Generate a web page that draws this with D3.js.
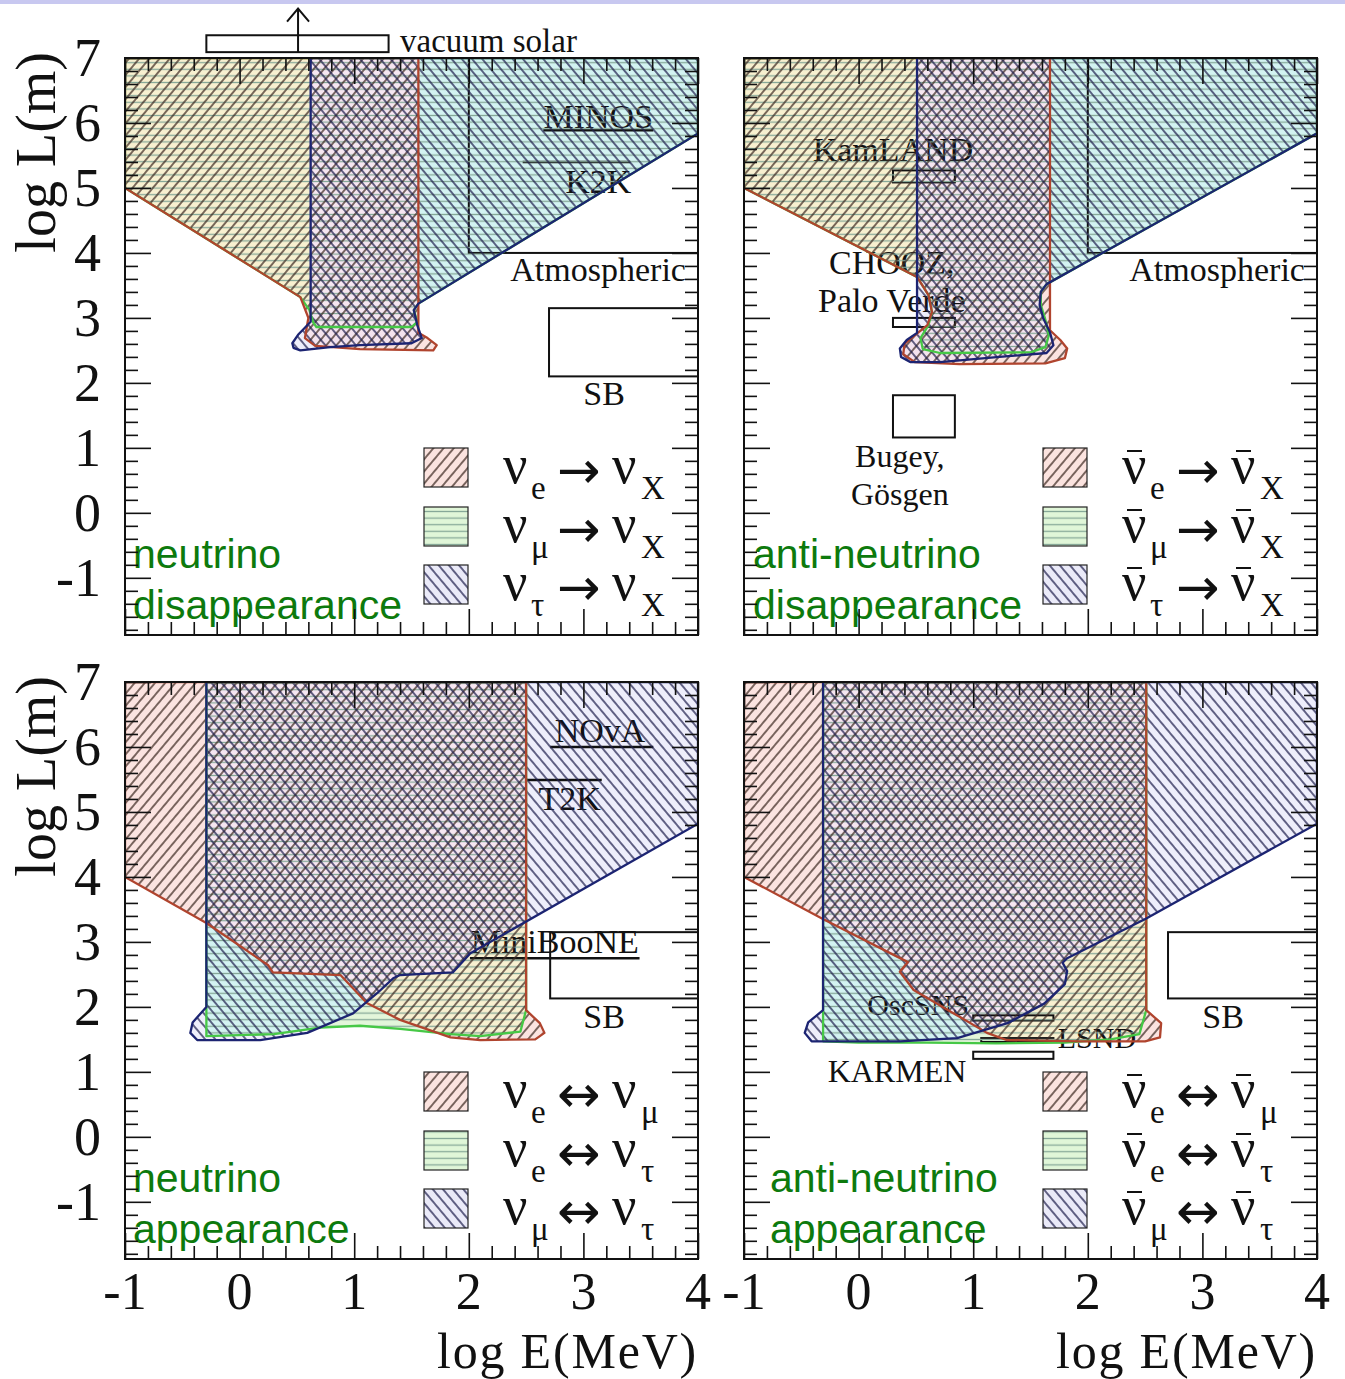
<!DOCTYPE html>
<html>
<head>
<meta charset="utf-8">
<title>Oscillation baselines</title>
<script src="https://cdn.jsdelivr.net/npm/d3@7/dist/d3.min.js"></script>
<style>
  html,body{margin:0;padding:0;background:#fff;}
  svg{display:block;}
</style>
</head>
<body>
<svg id="chart" width="1345" height="1379"></svg>
<script>
// ---------- axes ----------
const xDomain = [-1, 4];
const yDomain = [-1.88, 7];
const xTickValues = [-1, 0, 1, 2, 3, 4];
const xTickLabels = ["-1", "0", "1", "2", "3", "4"];
const yTickValues = [-1, 0, 1, 2, 3, 4, 5, 6, 7];
const yTickLabels = ["-1", "0", "1", "2", "3", "4", "5", "6", "7"];
const xTitle = "log E(MeV)";
const yTitle = "log L(m)";

// ---------- sensitive regions, vertices as [log E, log L] ----------
// neutrino disappearance
const nuDisE   = [[-1,7],[1.56,7],[1.56,2.77],[1.64,2.69],[1.72,2.58],[1.69,2.50],[1.05,2.52],[0.66,2.57],[0.57,2.69],[0.60,3.00],[0.53,3.32],[-1,5.0]];
const nuDisMu  = [[-1,7],[4,7],[4,5.84],[1.56,3.22],[1.52,3.12],[1.55,2.94],[1.50,2.86],[1.05,2.86],[0.67,2.86],[0.64,2.94],[0.61,3.12],[0.53,3.32],[-1,5.0]];
const nuDisTau = [[0.62,7],[4,7],[4,5.84],[1.56,3.22],[1.52,3.12],[1.55,2.89],[1.59,2.69],[1.50,2.61],[1.05,2.58],[0.79,2.55],[0.53,2.50],[0.47,2.54],[0.46,2.61],[0.51,2.74],[0.62,2.94]];
// anti-neutrino disappearance
const antiDisE   = [[-1,7],[1.67,7],[1.67,2.81],[1.76,2.66],[1.82,2.53],[1.80,2.38],[1.63,2.30],[0.88,2.29],[0.49,2.32],[0.39,2.44],[0.40,2.60],[0.49,2.73],[0.60,2.89],[0.64,3.09],[0.61,3.35],[0.51,3.63],[-1,5.0]];
const antiDisMu  = [[-1,7],[4,7],[4,5.84],[1.64,3.52],[1.59,3.40],[1.59,3.20],[1.63,2.97],[1.66,2.73],[1.63,2.55],[1.50,2.47],[0.71,2.46],[0.56,2.52],[0.54,2.69],[0.61,2.89],[0.64,3.09],[0.61,3.35],[0.51,3.63],[-1,5.0]];
const antiDisTau = [[0.51,7],[4,7],[4,5.84],[1.64,3.52],[1.59,3.40],[1.58,3.20],[1.61,3.00],[1.67,2.78],[1.70,2.58],[1.64,2.46],[1.23,2.40],[0.71,2.32],[0.45,2.32],[0.37,2.40],[0.36,2.53],[0.42,2.66],[0.51,2.77]];
// neutrino appearance
const nuAppEMu   = [[-1,7],[2.5,7],[2.5,1.95],[2.62,1.75],[2.66,1.60],[2.58,1.50],[2.10,1.49],[1.84,1.53],[1.40,1.80],[1.11,2.06],[0.88,2.49],[0.29,2.53],[0.25,2.64],[-0.29,3.29],[-1,4.0]];
const nuAppETau  = [[-0.29,7],[2.5,7],[2.5,1.95],[2.45,1.62],[2.10,1.55],[1.84,1.58],[1.40,1.66],[1.05,1.71],[0.70,1.68],[0.30,1.58],[-0.29,1.55]];
const nuAppMuTau = [[-0.29,7],[4,7],[4,4.82],[2.01,2.82],[1.86,2.53],[1.40,2.49],[1.34,2.44],[1.20,2.21],[0.99,1.90],[0.59,1.60],[0.18,1.49],[-0.37,1.49],[-0.43,1.60],[-0.41,1.76],[-0.29,2.0]];
// anti-neutrino appearance
const antiAppEMu   = [[-1,7],[2.51,7],[2.51,1.95],[2.64,1.75],[2.63,1.53],[2.50,1.47],[1.93,1.47],[1.29,1.49],[1.12,1.60],[0.83,1.90],[0.48,2.26],[0.36,2.54],[0.43,2.69],[0.34,2.77],[-0.32,3.36],[-1,4.0]];
const antiAppETau  = [[-0.31,7],[2.51,7],[2.51,1.95],[2.45,1.58],[2.2,1.50],[1.8,1.45],[1.2,1.44],[0.6,1.45],[0.0,1.45],[-0.31,1.47]];
const antiAppMuTau = [[-0.31,7],[4,7],[4,4.82],[2.51,3.36],[1.82,2.75],[1.78,2.68],[1.82,2.55],[1.80,2.35],[1.62,2.05],[1.30,1.75],[0.86,1.52],[0.36,1.47],[-0.41,1.47],[-0.47,1.60],[-0.44,1.76],[-0.31,1.95]];

// ---------- experiments: boxes [E0,E1,L0,L1], lines [E0,E1,L], labels [text,E,L,anchor,size] ----------
const disNuBoxes   = [[2,4,4.0,7.0],[2.70,4,2.10,3.15]];
const disNuLines   = [[2.65,3.61,5.89],[2.47,3.41,5.40]];
const disNuLabels  = [["MINOS",3.13,5.93,"middle",34],["K2K",3.13,4.93,"middle",34],["Atmospheric",3.895,3.565,"end",34],["SB",3.18,1.655,"middle",34]];
const solarBox     = [-0.29,1.30,7.09,7.35];
const solarArrow   = [0.51,7.09,7.76];
const solarLabel   = ["vacuum solar",1.40,7.10,"start",33];

const disAntiBoxes  = [[2,4,4.0,7.0],[0.30,0.84,5.085,5.27],[0.30,0.84,2.86,3.0],[0.30,0.84,1.16,1.81]];
const disAntiLines  = [];
const disAntiLabels = [["KamLAND",0.30,5.42,"middle",34],["CHOOZ,",0.29,3.67,"middle",34],["Palo Verde",0.29,3.09,"middle",34],["Bugey,",0.36,0.70,"middle",32],["Gösgen",0.36,0.115,"middle",32],["Atmospheric",3.895,3.565,"end",34]];

const appNuBoxes  = [[2.71,4,2.13,3.15]];
const appNuLines  = [[2.71,3.61,6.0],[2.49,3.16,5.49],[2.01,3.49,2.75]];
const appNuLabels = [["NOvA",3.145,6.07,"middle",34],["T2K",2.88,5.03,"middle",34],["MiniBooNE",2.75,2.83,"middle",34],["SB",3.18,1.68,"middle",34]];

const appAntiBoxes  = [[2.70,4,2.13,3.15],[1.0,1.70,1.79,1.87],[1.07,1.70,1.46,1.52],[1.0,1.70,1.20,1.31]];
const appAntiLines  = [];
const appAntiLabels = [["OscSNS",0.52,1.87,"middle",30],["LSND",2.08,1.365,"middle",30],["KARMEN",0.335,0.85,"middle",32],["SB",3.18,1.68,"middle",34]];

// ---------- legends ----------
const disLegend = [["e","X"],["μ","X"],["τ","X"]];
const appLegend = [["e","μ"],["e","τ"],["μ","τ"]];
const panelTitles = [["neutrino","disappearance"],["anti-neutrino","disappearance"],["neutrino","appearance"],["anti-neutrino","appearance"]];

// ---------- layout ----------
const PW = 573, PH = 577;
const panels = [
  {x0:125, y0:58,  regions:[nuDisE, nuDisMu, nuDisTau],         legend:disLegend, arrow:"→", anti:false, title:panelTitles[0], tdx:8,  boxes:disNuBoxes,   lines:disNuLines,   labels:disNuLabels,   left:true,  bottom:false},
  {x0:744, y0:58,  regions:[antiDisE, antiDisMu, antiDisTau],   legend:disLegend, arrow:"→", anti:true,  title:panelTitles[1], tdx:9,  boxes:disAntiBoxes, lines:disAntiLines, labels:disAntiLabels, left:false, bottom:false},
  {x0:125, y0:682, regions:[nuAppEMu, nuAppETau, nuAppMuTau],   legend:appLegend, arrow:"↔", anti:false, title:panelTitles[2], tdx:8,  boxes:appNuBoxes,   lines:appNuLines,   labels:appNuLabels,   left:true,  bottom:true},
  {x0:744, y0:682, regions:[antiAppEMu, antiAppETau, antiAppMuTau], legend:appLegend, arrow:"↔", anti:true, title:panelTitles[3], tdx:26, boxes:appAntiBoxes, lines:appAntiLines, labels:appAntiLabels, left:false, bottom:true}
];

const SERIF = "'Liberation Serif','Times New Roman',Times,serif";
const SANS  = "'Liberation Sans',Arial,Helvetica,sans-serif";

// region styles: 0 = first flavour (red, "/"), 1 = second (green, horizontal), 2 = third (blue, "\")
const styles = [
  {pat:"hFwd",  stroke:"#b0442e", sw:2.3, legendFill:"#fbe3df"},
  {pat:"hHor",  stroke:"#46c846", sw:2.3, legendFill:"#e0f6d8"},
  {pat:"hBack", stroke:"#1c2472", sw:2.3, legendFill:"#eaeaf8"}
];
// background tints of single regions and their overlaps
const tint = {r:"#fbe3e0", g:"#e3f6da", b:"#eeeefb", rg:"#f8f0d0", gb:"#d3f3f2", rb:"#f4e3ee", rgb:"#f6e6f1"};

const svg = d3.select("#chart");
const defs = svg.append("defs");

function hatch(id, angle, color, sw, s) {
  defs.append("pattern").attr("id", id).attr("patternUnits", "userSpaceOnUse")
    .attr("width", s).attr("height", s).attr("patternTransform", `rotate(${angle})`)
    .append("line").attr("x1", s/2).attr("x2", s/2).attr("y1", -1).attr("y2", s+1)
    .attr("stroke", color).attr("stroke-width", sw);
}
hatch("hFwd", 40, "#3e2a22", 1.35, 7.8);
hatch("hBack", -40, "#20204e", 1.35, 7.8);
defs.append("pattern").attr("id", "hHor").attr("patternUnits", "userSpaceOnUse")
  .attr("width", 10).attr("height", 6.6)
  .append("line").attr("x1", -1).attr("x2", 11).attr("y1", 3.3).attr("y2", 3.3)
  .attr("stroke", "#86a898").attr("stroke-width", 1.3);

// slide strip at the top
svg.append("rect").attr("x", 0).attr("y", 0).attr("width", 1345).attr("height", 4).attr("fill", "#c8c8f0");

const xMinor = d3.range(-5, 21).map(i => i/5).filter(v => Math.abs(v - Math.round(v)) > 1e-6);
const yMinor = d3.range(-9, 36).map(i => i/5).filter(v => Math.abs(v - Math.round(v)) > 1e-6);

panels.forEach((p, pi) => {
  const x = d3.scaleLinear().domain(xDomain).range([p.x0, p.x0 + PW]);
  const y = d3.scaleLinear().domain(yDomain).range([p.y0 + PH, p.y0]);
  const g = svg.append("g");
  const line = d3.line().x(d => x(d[0])).y(d => y(d[1])).curve(d3.curveLinearClosed);
  const [R, G, B] = p.regions.map(r => line(r));

  // clip paths for the panel and each region
  const cid = k => `c${pi}_${k}`;
  defs.append("clipPath").attr("id", cid("f")).append("rect").attr("x", p.x0).attr("y", p.y0).attr("width", PW).attr("height", PH);
  defs.append("clipPath").attr("id", cid("r")).append("path").attr("d", R);
  defs.append("clipPath").attr("id", cid("g")).append("path").attr("d", G);
  defs.append("clipPath").attr("id", cid("b")).append("path").attr("d", B);

  // tints: single regions, then overlaps
  const body = g.append("g").attr("clip-path", `url(#${cid("f")})`);
  body.append("path").attr("d", G).attr("fill", tint.g);
  body.append("path").attr("d", R).attr("fill", tint.r);
  body.append("path").attr("d", B).attr("fill", tint.b);
  body.append("path").attr("d", R).attr("fill", tint.rb).attr("clip-path", `url(#${cid("b")})`);
  body.append("path").attr("d", R).attr("fill", tint.rg).attr("clip-path", `url(#${cid("g")})`);
  body.append("path").attr("d", B).attr("fill", tint.gb).attr("clip-path", `url(#${cid("g")})`);
  body.append("g").attr("clip-path", `url(#${cid("g")})`)
    .append("path").attr("d", R).attr("fill", tint.rgb).attr("clip-path", `url(#${cid("b")})`);

  // experiment boxes, lines and names (under the hatching)
  const exp = g.append("g");
  p.boxes.forEach(b => {
    exp.append("rect").attr("x", x(b[0])).attr("y", y(b[3])).attr("width", x(b[1]) - x(b[0])).attr("height", y(b[2]) - y(b[3]))
      .attr("fill", "none").attr("stroke", "#111").attr("stroke-width", 2);
  });
  p.lines.forEach(l => {
    exp.append("line").attr("x1", x(l[0])).attr("x2", x(l[1])).attr("y1", y(l[2])).attr("y2", y(l[2]))
      .attr("stroke", "#111").attr("stroke-width", 2.5);
  });
  p.labels.forEach(t => {
    exp.append("text").attr("x", x(t[1])).attr("y", y(t[2])).attr("text-anchor", t[3])
      .attr("font-family", SERIF).attr("font-size", t[4]).attr("fill", "#111").text(t[0]);
  });

  // hatching and outlines
  const hat = g.append("g").attr("clip-path", `url(#${cid("f")})`);
  [G, R, B].forEach((d, j) => {
    const k = [1, 0, 2][j];
    hat.append("path").attr("d", d).attr("fill", `url(#${styles[k].pat})`);
  });
  [G, R, B].forEach((d, j) => {
    const k = [1, 0, 2][j];
    hat.append("path").attr("d", d).attr("fill", "none")
      .attr("stroke", styles[k].stroke).attr("stroke-width", styles[k].sw).attr("stroke-linejoin", "round");
  });

  // vacuum solar marker above the first frame
  if (pi === 0) {
    g.append("rect").attr("x", x(solarBox[0])).attr("y", y(solarBox[3])).attr("width", x(solarBox[1]) - x(solarBox[0]))
      .attr("height", y(solarBox[2]) - y(solarBox[3])).attr("fill", "none").attr("stroke", "#111").attr("stroke-width", 2);
    const ax = x(solarArrow[0]), ay0 = y(solarArrow[1]), ay1 = y(solarArrow[2]);
    g.append("line").attr("x1", ax).attr("x2", ax).attr("y1", ay0).attr("y2", ay1).attr("stroke", "#111").attr("stroke-width", 2);
    g.append("path").attr("d", `M${ax-11},${ay1+13}L${ax},${ay1}L${ax+11},${ay1+13}`).attr("fill", "none").attr("stroke", "#111").attr("stroke-width", 2);
    g.append("text").attr("x", x(solarLabel[1])).attr("y", y(solarLabel[2])).attr("text-anchor", solarLabel[3])
      .attr("font-family", SERIF).attr("font-size", solarLabel[4]).attr("fill", "#111").text(solarLabel[0]);
  }

  // legend
  const lg = g.append("g");
  const rowTops = [390, 449, 507];
  p.legend.forEach((r, k) => {
    const bx = p.x0 + 299, by = p.y0 + rowTops[k];
    lg.append("rect").attr("x", bx).attr("y", by).attr("width", 44).attr("height", 39).attr("fill", styles[k].legendFill);
    lg.append("rect").attr("x", bx).attr("y", by).attr("width", 44).attr("height", 39)
      .attr("fill", `url(#${styles[k].pat})`).attr("stroke", "#222").attr("stroke-width", 1.2);
    const base = by + 35;
    const t = lg.append("text").attr("font-family", SERIF).attr("fill", "#111");
    t.append("tspan").attr("x", p.x0 + 378).attr("y", base).attr("font-size", 54).text("ν");
    t.append("tspan").attr("x", p.x0 + 406).attr("y", base + 16).attr("font-size", 33).text(r[0]);
    t.append("tspan").attr("x", p.x0 + 487).attr("y", base).attr("font-size", 54).text("ν");
    t.append("tspan").attr("x", p.x0 + 516).attr("y", base + 16).attr("font-size", 33).text(r[1]);
    lg.append("text").attr("x", p.x0 + 432).attr("y", base + 5).attr("font-family", "'DejaVu Sans',sans-serif")
      .attr("font-size", 52).attr("fill", "#111").text(p.arrow);
    if (p.anti) {
      [p.x0 + 383, p.x0 + 492].forEach(bx0 => {
        lg.append("line").attr("x1", bx0).attr("x2", bx0 + 15).attr("y1", base - 32).attr("y2", base - 32)
          .attr("stroke", "#111").attr("stroke-width", 2);
      });
    }
  });

  // panel name
  const tt = g.append("text").attr("font-family", SANS).attr("font-size", 41).attr("fill", "#0d7a0d");
  tt.append("tspan").attr("x", p.x0 + p.tdx).attr("y", p.y0 + 510).text(p.title[0]);
  tt.append("tspan").attr("x", p.x0 + p.tdx).attr("y", p.y0 + 561).text(p.title[1]);

  // frame ticks on all four sides, pointing inward
  const ax = g.append("g").attr("color", "#111");
  const tick = (gen, tr, vals, len) => {
    const a = ax.append("g").attr("transform", tr).call(gen.tickValues(vals).tickSize(-len).tickFormat(""));
    a.select(".domain").remove();
    a.selectAll("line").attr("stroke-width", 1.6);
  };
  tick(d3.axisBottom(x), `translate(0,${p.y0 + PH})`, xTickValues, 26);
  tick(d3.axisBottom(x), `translate(0,${p.y0 + PH})`, xMinor, 13);
  tick(d3.axisTop(x), `translate(0,${p.y0})`, xTickValues, 26);
  tick(d3.axisTop(x), `translate(0,${p.y0})`, xMinor, 13);
  tick(d3.axisLeft(y), `translate(${p.x0},0)`, yTickValues, 26);
  tick(d3.axisLeft(y), `translate(${p.x0},0)`, yMinor, 13);
  tick(d3.axisRight(y), `translate(${p.x0 + PW},0)`, yTickValues, 26);
  tick(d3.axisRight(y), `translate(${p.x0 + PW},0)`, yMinor, 13);

  g.append("rect").attr("x", p.x0).attr("y", p.y0).attr("width", PW).attr("height", PH)
    .attr("fill", "none").attr("stroke", "#111").attr("stroke-width", 2);

  // tick labels and titles
  if (p.left) {
    yTickValues.forEach((v, i) => {
      g.append("text").attr("x", p.x0 - 24).attr("y", y(v)).attr("dy", "0.34em").attr("text-anchor", "end")
        .attr("font-family", SERIF).attr("font-size", 54).attr("fill", "#111").text(yTickLabels[i]);
    });
    g.append("text").attr("transform", `translate(55,${p.y0 - 6}) rotate(-90)`).attr("text-anchor", "end")
      .attr("font-family", SERIF).attr("font-size", 56).attr("fill", "#111").text(yTitle);
  }
  if (p.bottom) {
    xTickValues.forEach((v, i) => {
      g.append("text").attr("x", x(v)).attr("y", 1309).attr("text-anchor", "middle")
        .attr("font-family", SERIF).attr("font-size", 52).attr("fill", "#111").text(xTickLabels[i]);
    });
    g.append("text").attr("x", p.x0 + PW).attr("y", 1368).attr("text-anchor", "end")
      .attr("font-family", SERIF).attr("font-size", 50).attr("letter-spacing", 1.8)
      .attr("fill", "#111").text(xTitle);
  }
});
</script>
</body>
</html>
